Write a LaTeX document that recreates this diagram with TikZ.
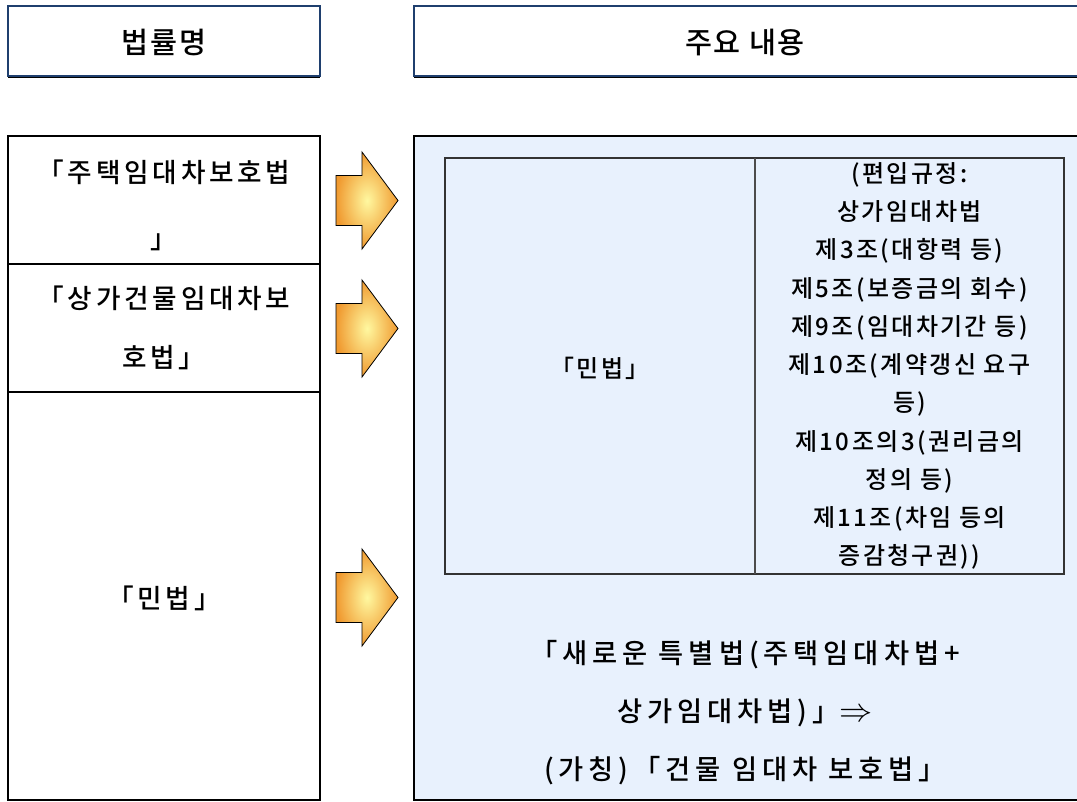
\documentclass[tikz,border=0pt]{standalone}
\usepackage{fontspec}
\setmainfont{Noto Sans CJK KR}[UprightFont={* Medium}]
\definecolor{headblue}{HTML}{1F3F6E}
\definecolor{panelblue}{HTML}{E8F1FD}
\definecolor{arrowout}{HTML}{F09A30}
\definecolor{arrowin}{HTML}{FFF8A0}
\tikzset{
	headbox/.style={draw=headblue, line width=2.2pt},
	heavy/.style={draw=black, line width=2.2pt},
	headtext/.style={font=\fontsize{22}{26}\selectfont\addfontfeature{LetterSpace=6}},
	lawtext/.style={align=center, font=\fontsize{20}{#1}\selectfont\addfontfeature{LetterSpace=14}},
	celltext/.style={align=center, font=\fontsize{18}{28.7}\selectfont\addfontfeature{LetterSpace=10}},
	newtext/.style={align=center, font=\fontsize{20.5}{43.5}\selectfont\addfontfeature{LetterSpace=18}},
	blockarrow/.style={draw=black, line width=.6pt, inner color=arrowin, outer color=arrowout}
}
\begin{document}
\begin{tikzpicture}[x=.75pt, y=-.75pt]
	\useasboundingbox (0,0) rectangle (1077,801);
	\clip (0,0) rectangle (1077,801);
	\draw[headbox] (8,6) rectangle (320,76);
	\draw[headbox] (414,6) rectangle (1090,76);
	\draw[black, line width=1pt] (8,77.5) -- (320,77.5) (414,77.5) -- (1090,77.5);
	\node[headtext] (hdlaw) at (164,42) {법률명};
	\node[headtext] (hdcontent) at (745,42) {주요 내용};
	\draw[heavy] (8,136) rectangle (320,800);
	\draw[heavy] (8,264) -- (320,264);
	\draw[black, line width=1.1pt] (8,392) -- (320,392);
	\node[lawtext=49.5] (lawhouse) at (164,205) {「주택임대차보호법\\」};
	\node[lawtext=44] (lawshop) at (164,328) {「상가건물임대차보\\호법」};
	\node[lawtext=24] (lawcivil) at (164,598) {「민법」};
	\foreach \cy in {200.5,328.5,597.5}
		\shadedraw[blockarrow] (336,\cy-25) -- (362,\cy-25) -- (362,\cy-48.5) -- (398,\cy)
			-- (362,\cy+48.5) -- (362,\cy+25) -- (336,\cy+25) -- cycle;
	\draw[heavy, fill=panelblue] (414,136) rectangle (1090,800);
	\draw[black!80, line width=1.2pt] (445,158) rectangle (1064,574);
	\draw[black!70, line width=.8pt] (755,158) -- (755,574);
	\node[celltext] (civil) at (600,368) {「민법」};
	\node[celltext] (rules) at (909.5,366) {(편입규정:\\상가임대차법\\제3조(대항력 등)\\제5조(보증금의 회수)\\제9조(임대차기간 등)\\제10조(계약갱신 요구\\등)\\제10조의3(권리금의\\정의 등)\\제11조(차임 등의\\증감청구권))};
	\node[newtext] (newlaw) at (745,713) {「새로운 특별법(주택임대차법+\\상가임대차법)」{\fontsize{26}{26}\selectfont$\Rightarrow$}\\(가칭)「건물 임대차 보호법」};
\end{tikzpicture}
\end{document}
